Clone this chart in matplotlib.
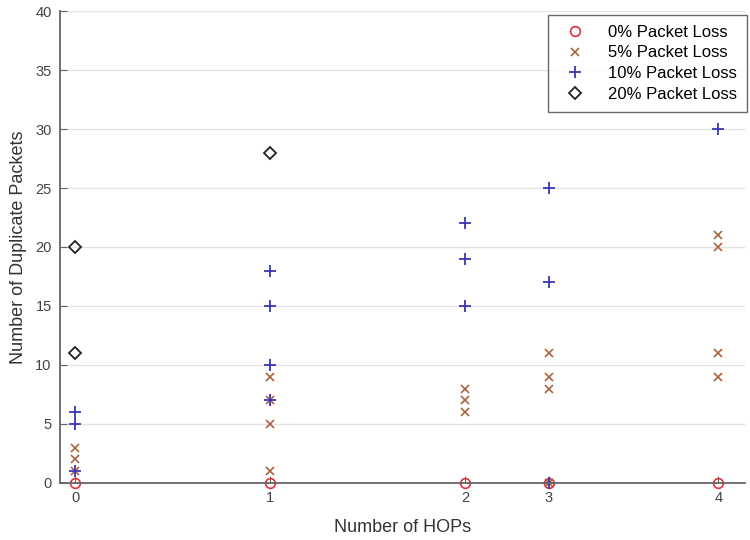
import matplotlib
matplotlib.use("Agg")
import matplotlib.pyplot as plt

plt.rcParams["font.family"] = ["Liberation Sans", "DejaVu Sans"]

# hop tick positions on the x axis and their labels
hop_pos = [0, 1, 2, 2.43, 3.3]
hop_labels = ["0", "1", "2", "3", "4"]

# duplicate packets per hop count, one list per packet loss rate
loss0_x = [0, 1, 2, 3, 4]
loss0_y = [0, 0, 0, 0, 0]

loss5_x = [0, 0, 0, 1, 1, 1, 1, 2, 2, 2, 3, 3, 3, 3, 4, 4, 4, 4]
loss5_y = [3, 2, 1, 9, 7, 5, 1, 8, 7, 6, 11, 9, 8, 0, 21, 20, 11, 9]

loss10_x = [0, 0, 0, 1, 1, 1, 1, 2, 2, 2, 3, 3, 3, 4]
loss10_y = [6, 5, 1, 18, 15, 10, 7, 22, 19, 15, 25, 17, 0, 30]

loss20_x = [0, 0, 1]
loss20_y = [20, 11, 28]

def to_pos(xs):
    return [hop_pos[x] for x in xs]

fig = plt.figure(figsize=(7.5, 5.4), dpi=100)
ax = fig.add_axes([0.08, 0.1056, 0.913, 0.874])

ax.plot(to_pos(loss0_x), loss0_y, linestyle="none", marker="o", ms=7,
        mfc="none", mec="#e0303a", mew=1.2, label="0% Packet Loss", clip_on=False)
ax.plot(to_pos(loss5_x), loss5_y, linestyle="none", marker="x", ms=6,
        color="#a8643c", mew=1.2, label="5% Packet Loss", clip_on=False)
ax.plot(to_pos(loss10_x), loss10_y, linestyle="none", marker="+", ms=9,
        color="#3a35b8", mew=1.3, label="10% Packet Loss", clip_on=False)
ax.plot(to_pos(loss20_x), loss20_y, linestyle="none", marker="D", ms=6,
        mfc="none", mec="#222222", mew=1.3, label="20% Packet Loss", clip_on=False)

ax.set_xlim(-0.077, 3.436)
ax.set_ylim(0, 40)
ax.set_xticks(hop_pos)
ax.set_xticklabels(hop_labels)
ax.set_yticks(range(0, 41, 5))

ax.grid(True, axis="y", color="#e4e4e4", linewidth=1)
ax.set_axisbelow(True)
for side in ("top", "right"):
    ax.spines[side].set_visible(False)
for side in ("left", "bottom"):
    ax.spines[side].set_color("#666666")
    ax.spines[side].set_linewidth(1.3)
ax.tick_params(direction="in", length=5, color="#666666", labelcolor="#444444",
               labelsize=10.5, pad=6)

ax.set_xlabel("Number of HOPs", fontsize=13, color="#333333", labelpad=10)
ax.set_ylabel("Number of Duplicate Packets", fontsize=13, color="#333333", labelpad=6)

leg = ax.legend(loc="upper right", bbox_to_anchor=(1.016, 1.01), fontsize=12,
                frameon=True, fancybox=False, edgecolor="#444444",
                borderpad=0.6, labelspacing=0.35, handletextpad=1.0,
                handlelength=2.0)
leg.get_frame().set_linewidth(1.0)

fig.savefig("out.png", dpi=100)
